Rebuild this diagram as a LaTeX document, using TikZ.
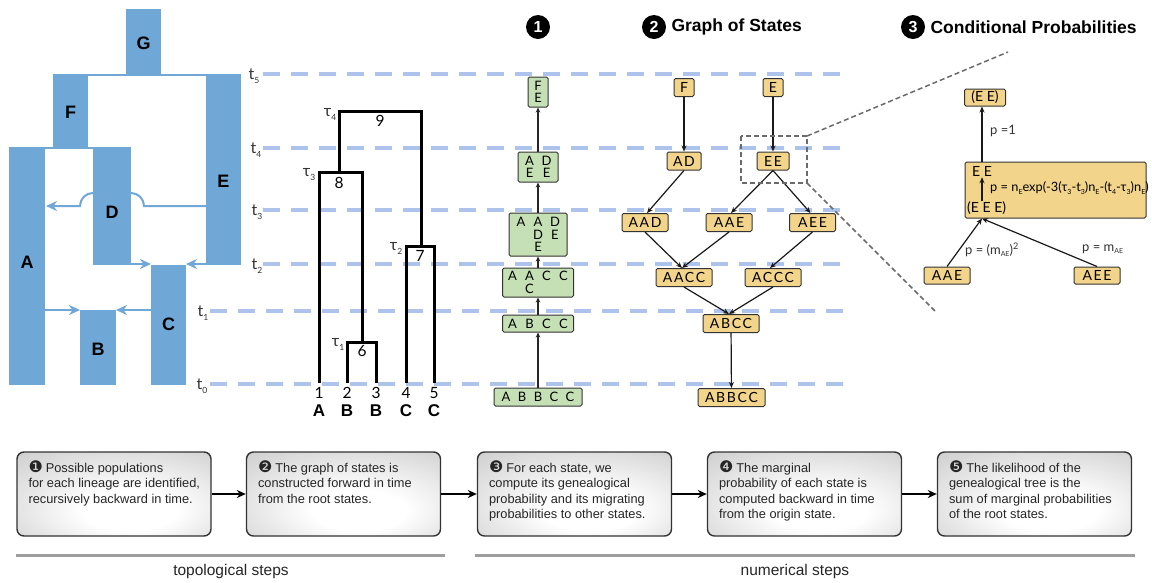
\documentclass[tikz,border=0pt]{standalone}
\usepackage{fontspec}
\setmainfont{Liberation Sans}
\newfontfamily\stfont{Lato}
\newfontfamily\stsp[LetterSpace=12]{Lato}
\newfontfamily\dingfont{DejaVu Sans}
\usetikzlibrary{arrows.meta}
\definecolor{popblue}{HTML}{6FA7D6}
\definecolor{dashblue}{HTML}{AEC3EC}
\definecolor{stgreen}{HTML}{C5E0B4}
\definecolor{styellow}{HTML}{F2D48A}
\definecolor{boxedge}{HTML}{333333}
\definecolor{zgray}{HTML}{6B6B6B}
\pgfdeclareradialshading{stepshade}{\pgfpoint{5bp}{-12bp}}{color(0bp)=(white); color(12bp)=(white); color(45bp)=(black!22); color(70bp)=(black!38)}
\newcommand\lsub[1]{\raisebox{-2.5pt}{\fontsize{7}{7}\selectfont #1}}
\newcommand\tsub[1]{\raisebox{-4pt}{\fontsize{8.5}{8.5}\selectfont #1}}
\newcommand\gc[1]{\makebox[17pt]{#1}}
\newcommand\dg[1]{{\dingfont\fontsize{16}{15}\selectfont #1}\hspace{3pt}}
\begin{document}
\begin{tikzpicture}[x=1pt,y=-1pt,
  poplab/.style={font=\bfseries\fontsize{18}{18}\selectfont},
  poparrow/.style={draw=popblue, line width=2, -{Stealth[length=11pt,width=10pt]}},
  tline/.style={draw=dashblue, line width=3.5, dash pattern=on 17pt off 11pt},
  tlab/.style={font=\stfont\fontsize{16}{16}\selectfont, text=black!80},
  tree/.style={line width=3, line join=miter},
  numlab/.style={font=\stfont\fontsize{15.5}{15.5}\selectfont},
  leaflab/.style={font=\bfseries\fontsize{17}{17}\selectfont},
  gbox/.style={draw=boxedge, fill=stgreen, line width=1, rounded corners=1.5pt, inner sep=1.5pt, align=center, font=\stfont\fontsize{13}{12.5}\selectfont},
  garrow/.style={draw=black!85, line width=1.3, -{Stealth[length=5pt,width=4.5pt]}},
  ybox/.style={draw=boxedge, fill=styellow, line width=1, rounded corners=1.5pt, inner sep=1.5pt, minimum height=18, font=\stsp\fontsize{14}{14}\selectfont},
  yarrow/.style={draw=black!90, line width=1.2, -{Stealth[length=6pt,width=5pt]}},
  plab/.style={font=\stfont\fontsize{13}{13}\selectfont, text=black!80, anchor=west, inner sep=0},
  zdash/.style={draw=zgray, line width=1.5, dash pattern=on 5pt off 3pt},
  headc/.style={circle, fill=black, text=white, minimum size=24, inner sep=0, font=\bfseries\fontsize{16}{16}\selectfont},
  headt/.style={anchor=west, font=\bfseries\fontsize{17.5}{17.5}\selectfont},
  stepbox/.style={draw=boxedge, line width=1.4, rounded corners=7pt, shading=stepshade, minimum width=194, minimum height=84},
  steptext/.style={anchor=north west, inner sep=0, align=left, text=black!85, font=\fontsize{12.8}{15.5}\selectfont},
  steparrow/.style={draw=black, line width=2, -{Stealth[length=9pt,width=8pt]}},
  grayline/.style={draw=black!38, line width=3}
]
\useasboundingbox (0,0) rectangle (1152,582);
\fill[white] (0,0) rectangle (1152,582);

% time dashed lines
\draw[tline] (263,74) -- (846,74);
\draw[tline] (263,148) -- (846,148);
\draw[tline] (263,210) -- (846,210);
\draw[tline] (263,264) -- (846,264);
\draw[tline] (210,311) -- (846,311);
\draw[tline] (210,384) -- (846,384);
\node[tlab] (t5) at (254,76) {t\tsub{5}};
\node[tlab] (t4) at (256,150) {t\tsub{4}};
\node[tlab] (t3) at (257,212) {t\tsub{3}};
\node[tlab] (t2) at (257,266) {t\tsub{2}};
\node[tlab] (t1) at (203,313) {t\tsub{1}};
\node[tlab] (t0) at (202,386) {t\tsub{0}};

% population tree
\fill[popblue] (126,9) rectangle (161,75);
\fill[popblue] (53,74) rectangle (241,76);
\fill[popblue] (53,74) rectangle (88,148);
\fill[popblue] (206,74) rectangle (241,265);
\fill[popblue] (9,147) rectangle (131,149);
\fill[popblue] (9,147) rectangle (45,385);
\fill[popblue] (93,147) rectangle (131,265);
\fill[popblue] (151,265) rectangle (186,385);
\fill[popblue] (80,310) rectangle (116,385);
\draw[draw=popblue, line width=2] (206,206) -- (144,206) arc[start angle=0, end angle=90, radius=13pt];
\draw[poparrow] (93,193) arc[start angle=90, end angle=180, radius=13pt] -- (46,206);
\draw[poparrow] (131,264) -- (151,264);
\draw[poparrow] (206,264) -- (186,264);
\draw[poparrow] (45,310) -- (80,310);
\draw[poparrow] (151,310) -- (116,310);
\node[poplab] (pG) at (143.5,43) {G};
\node[poplab] (pF) at (70.5,112) {F};
\node[poplab] (pE) at (223.5,181) {E};
\node[poplab] (pD) at (112,212) {D};
\node[poplab] (pA) at (27,262) {A};
\node[poplab] (pC) at (168.5,324) {C};
\node[poplab] (pB) at (98,349) {B};

% genealogy tree
\coordinate (L1) at (319,383);
\coordinate (L2) at (347,383);
\coordinate (L3) at (376,383);
\coordinate (L4) at (406,383);
\coordinate (L5) at (434,383);
\coordinate (n6) at (362,342);
\coordinate (n8) at (339,172);
\coordinate (n8r) at (362,172);
\coordinate (n9l) at (339,111);
\coordinate (n9r) at (421,111);
\coordinate (n7) at (421,246);
\draw[tree] (L2) |- (n6) -| (L3);
\draw[tree] (L1) |- (n8r) -- (n6);
\draw[tree] (n8) -- (n9l) -- (n9r) -- (n7);
\draw[tree] (L4) |- (n7) -| (L5);
\node[numlab] (k9) at (380,121) {9};
\node[numlab] (k8) at (339,183) {8};
\node[numlab] (k7) at (420,256) {7};
\node[numlab] (k6) at (362,351) {6};
\node[numlab] (k1) at (319,393) {1};
\node[numlab] (k2) at (347,393) {2};
\node[numlab] (k3) at (376,393) {3};
\node[numlab] (k4) at (406,393) {4};
\node[numlab] (k5) at (434,393) {5};
\node[tlab] (tau4) at (330,114) {τ\tsub{4}};
\node[tlab] (tau3) at (309,175) {τ\tsub{3}};
\node[tlab] (tau2) at (396,248) {τ\tsub{2}};
\node[tlab] (tau1) at (338,344) {τ\tsub{1}};
\node[leaflab] (a1) at (319,411) {A};
\node[leaflab] (a2) at (347,411) {B};
\node[leaflab] (a3) at (376,411) {B};
\node[leaflab] (a4) at (406,411) {C};
\node[leaflab] (a5) at (434,411) {C};

% headings
\node[headc] (h1) at (538,27) {1};
\node[headc] (h2) at (654,27) {2};
\node[headt] (h2t) at (668,27) {Graph of States};
\node[headc] (h3) at (913,27) {3};
\node[headt] (h3t) at (927,27) {Conditional Probabilities};

% green column
\node[gbox, minimum width=20, minimum height=30] (g6) at (538,92) {\makebox[12pt]{F}\\\makebox[12pt]{E}};
\node[gbox, minimum width=40, minimum height=30] (g5) at (538,167) {\gc{A}\gc{D}\\\gc{E}\gc{E}};
\node[gbox, minimum width=58, minimum height=43] (g4) at (538,234.5) {\gc{A}\gc{A}\gc{D}\\\gc{}\gc{D}\gc{E}\\\gc{}\gc{E}\gc{}};
\node[gbox, minimum width=71, minimum height=29] (g3) at (538,282.5) {\gc{A}\gc{A}\gc{C}\gc{C}\\\gc{}\gc{C}\gc{}\gc{}};
\node[gbox, minimum width=70, minimum height=17] (g2) at (538,323.5) {\gc{A}\gc{B}\gc{C}\gc{C}};
\node[gbox, minimum width=88, minimum height=18] (g1) at (538,397) {\makebox[16pt]{A}\makebox[16pt]{B}\makebox[16pt]{B}\makebox[16pt]{C}\makebox[16pt]{C}};
\draw[garrow] (g1.north) -- (g2.south);
\draw[garrow] (g2.north) -- (g3.south);
\draw[garrow] (g3.north) -- (g4.south);
\draw[garrow] (g4.north) -- (g5.south);
\draw[garrow] (g5.north) -- (g6.south);

% graph of states
\node[ybox, minimum width=20] (sF) at (684,87.5) {F};
\node[ybox, minimum width=20] (sE) at (773,87.5) {E};
\node[ybox, minimum width=34] (sAD) at (684,161) {AD};
\node[ybox, minimum width=32] (sEE) at (773,161) {EE};
\node[ybox, minimum width=46] (sAAD) at (645,222.5) {AAD};
\node[ybox, minimum width=46] (sAAE) at (729,222.5) {AAE};
\node[ybox, minimum width=46] (sAEE) at (812.5,222.5) {AEE};
\node[ybox, minimum width=56] (sAACC) at (684,277.5) {AACC};
\node[ybox, minimum width=56] (sACCC) at (773,277.5) {ACCC};
\node[ybox, minimum width=56] (sABCC) at (731,323.5) {ABCC};
\node[ybox, minimum width=67] (sABBCC) at (731.5,397.5) {ABBCC};
\draw[yarrow] (sF) -- (sAD);
\draw[yarrow] (sE) -- (sEE);
\draw[yarrow] (sAD.south) -- ([xshift=2pt]sAAD.north);
\draw[yarrow] (sEE.south) -- ([xshift=2pt]sAAE.north);
\draw[yarrow] (sEE.south) -- ([xshift=-2pt]sAEE.north);
\draw[yarrow] (sAAD.south) -- ([xshift=-2pt]sAACC.north);
\draw[yarrow] (sAAE.south) -- ([xshift=-2pt]sAACC.north);
\draw[yarrow] (sAEE.south) -- ([xshift=-3pt]sACCC.north);
\draw[yarrow] (sAACC.south) -- ([xshift=-2pt]sABCC.north);
\draw[yarrow] (sACCC.south) -- ([xshift=-2pt]sABCC.north);
\draw[yarrow] (sABCC) -- (sABBCC);

% zoom frame
\coordinate (z1) at (741,136);
\coordinate (z2) at (807,136);
\coordinate (z3) at (807,183);
\coordinate (z4) at (1008,52);
\coordinate (z5) at (935,311);
\draw[zdash] (z1) rectangle (z3);
\draw[zdash] (z2) -- (z4);
\draw[zdash] (z3) -- (z5);

% conditional probabilities
\node[ybox, minimum width=41, minimum height=17, font=\stfont\fontsize{14}{14}\selectfont] (cEE) at (985,97.5) {(E E)};
\node[ybox, minimum width=181, minimum height=56] (cbig) at (1055.5,190) {};
\node[inner sep=0, font=\stfont\fontsize{14}{14}\selectfont] (cee2) at (982,171) {E E};
\node[inner sep=0, font=\stfont\fontsize{14}{14}\selectfont, anchor=west] (ceee) at (967,208) {(E E E)};
\draw[yarrow, shorten >=1pt] (ceee.north -| cee2) -- (cee2.south);
\node[inner sep=0, anchor=west, font=\stfont\fontsize{12.8}{12.8}\selectfont] (cform) at (990,188) {p = n\lsub{E}exp(-3(τ\lsub{3}-t\lsub{3})n\lsub{E}-(t\lsub{4}-τ\lsub{3})n\lsub{E})};
\draw[yarrow] (cbig.north -| cee2) -- (cEE.south -| cee2);
\node[plab] (cp1) at (990,131) {p =1};
\node[ybox, minimum width=46, minimum height=17] (cAAE) at (947,275.5) {AAE};
\node[ybox, minimum width=46, minimum height=17] (cAEE) at (1097,275.5) {AEE};
\coordinate (cin) at (cbig.south -| cee2);
\draw[yarrow] (cAAE.north) -- (cin);
\draw[yarrow] (cAEE.north) -- (cin);
\node[plab] (cp2) at (965,250) {p = (m\lsub{AE})\textsuperscript{2}};
\node[plab] (cp3) at (1082,249) {p = m\lsub{AE}};

% bottom steps
\node[stepbox] (b1) at (114,494) {};
\node[stepbox] (b2) at (343.5,494) {};
\node[stepbox] (b3) at (574.5,494) {};
\node[stepbox] (b4) at (804.5,494) {};
\node[stepbox] (b5) at (1034.5,494) {};
\node[steptext] (bt1) at ([xshift=12pt,yshift=-9pt]b1.north west) {\dg{❶}Possible populations\\for each lineage are identified,\\recursively backward in time.};
\node[steptext] (bt2) at ([xshift=12pt,yshift=-9pt]b2.north west) {\dg{❷}The graph of states is\\constructed forward in time\\from the root states.};
\node[steptext] (bt3) at ([xshift=12pt,yshift=-9pt]b3.north west) {\dg{❸}For each state, we\\compute its genealogical\\probability and its migrating\\probabilities to other states.};
\node[steptext] (bt4) at ([xshift=12pt,yshift=-9pt]b4.north west) {\dg{❹}The marginal\\probability of each state is\\computed backward in time\\from the origin state.};
\node[steptext] (bt5) at ([xshift=12pt,yshift=-9pt]b5.north west) {\dg{❺}The likelihood of the\\genealogical tree is the\\sum of marginal probabilities\\of the root states.};
\draw[steparrow] (b1) -- (b2);
\draw[steparrow] (b2) -- (b3);
\draw[steparrow] (b3) -- (b4);
\draw[steparrow] (b4) -- (b5);
\coordinate (gl1a) at (16,555);
\coordinate (gl1b) at (445,555);
\coordinate (gl2a) at (475,555);
\coordinate (gl2b) at (1135,555);
\draw[grayline] (gl1a) -- (gl1b);
\draw[grayline] (gl2a) -- (gl2b);
\node[font=\fontsize{15.5}{15.5}\selectfont, text=black!85] (lt) at (231,571) {topological steps};
\node[font=\fontsize{15.5}{15.5}\selectfont, text=black!85] (ln) at (795,571) {numerical steps};
\end{tikzpicture}
\end{document}
